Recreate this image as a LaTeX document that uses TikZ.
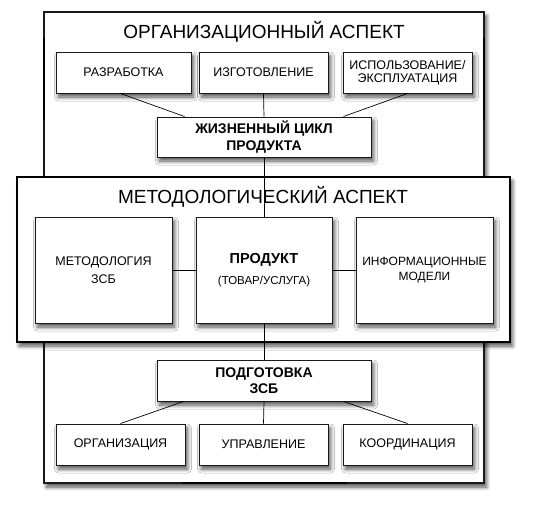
\documentclass[tikz,border=0pt]{standalone}
\usepackage{fontspec}
\setmainfont{Liberation Sans}
\usetikzlibrary{shadows,shadows.blur}
\begin{document}
\begin{tikzpicture}[x=1pt,y=-1pt,
  shd/.style={blur shadow={shadow xshift=2.5pt,shadow yshift=-4pt,shadow blur steps=8,shadow blur radius=4pt,shadow opacity=70}},
  box/.style={draw=black!90,line width=1pt,fill=white,shd,inner sep=0pt,align=center,font=\fontsize{12.5}{13.5}\selectfont},
  bbox/.style={box,font=\fontsize{14}{16.5}\selectfont\bfseries},
  conn/.style={draw=black,line width=0.7pt},
  title/.style={font=\fontsize{19}{21}\selectfont,inner sep=0pt},
  thick seg/.style={line width=2.4pt,black}]
\useasboundingbox (0,0) rectangle (559,509);
% outer frame
\path[draw=black!90,line width=1.1pt,fill=white,shd] (44,12) rectangle (484,483);
\coordinate (fl1) at (44,38); \coordinate (fl2) at (44,120);
\coordinate (fr1) at (484,38); \coordinate (fr2) at (484,120);
\draw[thick seg] (fl1) -- (fl2);
\draw[thick seg] (fr1) -- (fr2);
\coordinate (fb1) at (182,483); \coordinate (fb2) at (347,483);
\draw[line width=2pt] (fb1) -- (fb2);
\node[title] (orgt) at (264,32) {ОРГАНИЗАЦИОННЫЙ АСПЕКТ};
% top boxes
\node[box,minimum width=135pt,minimum height=41pt] (razr) at (123.5,72.5) {РАЗРАБОТКА};
\node[box,minimum width=129pt,minimum height=41pt] (izg) at (263.5,72.5) {ИЗГОТОВЛЕНИЕ};
\node[box,minimum width=129pt,minimum height=41pt] (isp) at (407.5,72.5) {ИСПОЛЬЗОВАНИЕ/\\ЭКСПЛУАТАЦИЯ};
\node[bbox,minimum width=214pt,minimum height=40pt] (cyc) at (264,137) {ЖИЗНЕННЫЙ ЦИКЛ\\ПРОДУКТА};
\draw[conn] ([xshift=-3pt]razr.south) -- ([xshift=28pt]cyc.north west);
\draw[conn] (izg.south) -- (cyc.north);
\draw[conn] (isp.south) -- ([xshift=-28pt]cyc.north east);
% methodological
\path[draw=black,line width=1.2pt,fill=white,shd] (17,177) rectangle (510,342);
\coordinate (mb1) at (177,342); \coordinate (mb2) at (352,342);
\draw[line width=2.2pt] (mb1) -- (mb2);
\node[box,minimum width=137pt,minimum height=106pt,font=\fontsize{12.5}{17.5}\selectfont] (met) at (103.5,270) {МЕТОДОЛОГИЯ\\ЗСБ};
\node[box,minimum width=136pt,minimum height=106pt] (prod) at (264,270) {};
\node[box,minimum width=137pt,minimum height=106pt,font=\fontsize{12}{15}\selectfont] (inf) at (424.5,270) {ИНФОРМАЦИОННЫЕ\\МОДЕЛИ};
\node[font=\fontsize{14.5}{16}\selectfont\bfseries,inner sep=0pt] (prodt) at (264,260) {ПРОДУКТ};
\node[font=\fontsize{11.5}{13}\selectfont,inner sep=0pt] (prods) at (264,282) {(ТОВАР/УСЛУГА)};
\draw[conn] (cyc.south) -- (prod.north);
\node[title] (mett) at (263,197) {МЕТОДОЛОГИЧЕСКИЙ АСПЕКТ};
\draw[conn] (met.east) -- (prod.west);
\draw[conn] (prod.east) -- (inf.west);
% bottom part
\node[bbox,minimum width=214pt,minimum height=41pt,font=\fontsize{14}{16}\selectfont\bfseries] (podg) at (264,380.5) {ПОДГОТОВКА\\ЗСБ};
\draw[conn] (prod.south) -- (podg.north);
\node[box,minimum width=129pt,minimum height=41pt] (org) at (120.5,444.5) {ОРГАНИЗАЦИЯ};
\node[box,minimum width=129pt,minimum height=41pt] (upr) at (263.5,444.5) {УПРАВЛЕНИЕ};
\node[box,minimum width=129pt,minimum height=41pt] (koo) at (407.5,444.5) {КООРДИНАЦИЯ};
\draw[conn] ([xshift=27pt]podg.south west) -- (org.north);
\draw[conn] (podg.south) -- (upr.north);
\draw[conn] ([xshift=-28pt]podg.south east) -- (koo.north);
\end{tikzpicture}
\end{document}
